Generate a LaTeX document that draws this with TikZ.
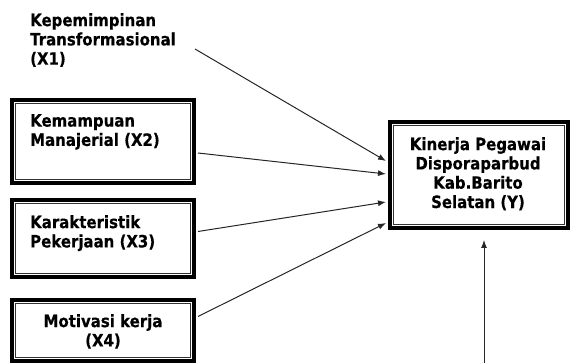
\documentclass[tikz,border=0pt]{standalone}
\usepackage{fontspec}
\newfontfamily\lblfont{DejaVu Sans Bold}[FakeStretch=0.88,FakeBold=0.4]
\usetikzlibrary{calc,arrows.meta}
\begin{document}
\begin{tikzpicture}[x=1pt,y=-1pt,
  box/.style={draw,line width=4pt,minimum width=182pt,inner sep=0pt,rectangle},
  innerline/.style={draw,line width=0.9pt,black!80},
  lbl/.style={inner sep=0pt,font=\lblfont\fontsize{17}{19.3}\selectfont},
  conn/.style={line width=1pt,black!85,-{Latex[length=8pt,width=6pt]}}]
\useasboundingbox (0,0) rectangle (571,363);
% boxes
\node[box,minimum height=83pt] (b2) at (103,141.5) {};
\node[box,minimum height=77pt] (b3) at (103,238.5) {};
\node[box,minimum height=61pt] (b4) at (103,330.5) {};
\node[box,minimum width=178pt,minimum height=106pt] (y) at (479,175) {};
\foreach \b in {b2,b3,b4,y}{
  \draw[innerline] ($(\b.north west)+(5.5,5.5)$) rectangle ($(\b.south east)+(-5.5,-5.5)$);
}
% labels
\node[lbl,anchor=north west,align=left] (t1) at (30,13) {Kepemimpinan\\Transformasional\\(X1)};
\node[lbl,anchor=north west,align=left] (t2) at (30,114) {Kemampuan\\Manajerial (X2)};
\node[lbl,anchor=north west,align=left] (t3) at (30,215) {Karakteristik\\Pekerjaan (X3)};
\node[lbl,anchor=north,align=center] (t4) at (103,314) {Motivasi kerja\\(X4)};
\node[lbl,anchor=north,align=center] (ty) at (478,137) {Kinerja Pegawai\\Disporaparbud\\Kab.Barito\\Selatan (Y)};
% connectors
\coordinate (s1) at (195,49);
\coordinate (s5) at (484,363);
\draw[conn] (s1) -- ($(y.west)+(-2,-14)$);
\draw[conn] ($(b2.east)+(2,11.5)$) -- ($(y.west)+(-2,-1)$);
\draw[conn] ($(b3.east)+(2,-7)$) -- ($(y.west)+(-2,27)$);
\draw[conn] ($(b4.east)+(2,-14)$) -- ($(y.west)+(-2,48)$);
\draw[conn] (s5) -- ($(y.south)+(5,10)$);
\end{tikzpicture}
\end{document}
